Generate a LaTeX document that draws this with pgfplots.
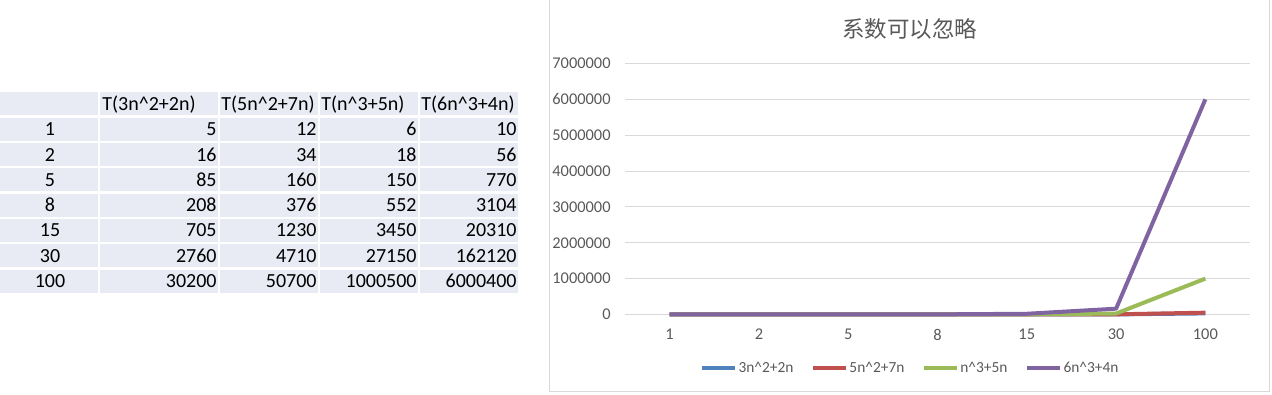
\documentclass[border=0pt]{standalone}
\usepackage{pgfplots}
\pgfplotsset{compat=1.18}
\usepackage{pgfplotstable}
\usepackage{fontspec}
\setmainfont{Carlito}
\newfontfamily\cjk{Noto Sans CJK SC}
\definecolor{cellbg}{RGB}{233,235,244}
\definecolor{txtgray}{RGB}{89,89,89}
\definecolor{gridgray}{RGB}{217,217,217}
\definecolor{sblue}{RGB}{79,129,189}
\definecolor{sred}{RGB}{192,80,77}
\definecolor{sgreen}{RGB}{155,187,89}
\definecolor{spurple}{RGB}{128,100,162}

\pgfplotstableread{
n a b c d
1 5 12 6 10
2 16 34 18 56
5 85 160 150 770
8 208 376 552 3104
15 705 1230 3450 20310
30 2760 4710 27150 162120
100 30200 50700 1000500 6000400
}\data

\begin{document}
\begin{tikzpicture}[x=0.5pt,y=0.5pt]
\path (0,0) rectangle (1272,394);
% ---- table backgrounds
\foreach \xl/\xr in {0/98,100/218,220/318,320/418,420/518}{
  \foreach \i in {0,...,7}{
    \fill[cellbg] (\xl,{302-25.3*\i}) rectangle (\xr,{302-25.3*\i-23});
  }
}
% ---- header
\begin{scope}[every node/.style={anchor=base west,inner sep=0pt,font=\fontsize{10}{12}\selectfont}]
\node at (102,284) {T(3n\textasciicircum2+2n)};
\node at (221,284) {T(5n\textasciicircum2+7n)};
\node at (321,284) {T(n\textasciicircum3+5n)};
\node at (421,284) {T(6n\textasciicircum3+4n)};
\end{scope}
% ---- body
\foreach \i in {0,...,6}{
  \pgfmathsetmacro\yb{302-25.3*(\i+1)-18}
  \pgfplotstablegetelem{\i}{n}\of\data
  \node[anchor=base,inner sep=0pt,font=\fontsize{10}{12}\selectfont] at (50,\yb) {\pgfplotsretval};
  \foreach \c/\xr in {a/217,b/317,c/417,d/517}{
    \pgfplotstablegetelem{\i}{\c}\of\data
    \node[anchor=base east,inner sep=0pt,font=\fontsize{10}{12}\selectfont] at (\xr,\yb) {\pgfplotsretval};
  }
}
% ---- chart frame
\draw[gray!30, line width=0.5pt] (549.5,394) -- (549.5,3) -- (1269.5,3) -- (1269.5,394);
% ---- title
\node[font=\cjk\fontsize{11.25}{13}\selectfont, text=txtgray] at (909.5,366) {系数可以忽略};
% ---- chart
\begin{axis}[
  at={(312.5pt,40pt)}, anchor=south west,
  scale only axis, width=312.5pt, height=125.5pt,
  xmin=-0.5, xmax=6.5, ymin=0, ymax=7000000,
  ytick={0,1000000,2000000,3000000,4000000,5000000,6000000,7000000},
  xtick={0,...,6}, xticklabels={1,2,5,8,15,30,100},
  ymajorgrids, grid style={gridgray, line width=0.5pt},
  axis line style={draw=none}, major tick length=0pt,
  /pgf/number format/assume math mode=true,
  scaled y ticks=false,
  tick label style={font=\fontsize{8.2}{10}\selectfont, text=txtgray},
  yticklabel style={/pgf/number format/fixed, /pgf/number format/precision=0, /pgf/number format/1000 sep={}, anchor=east, inner sep=0pt, xshift=-7pt},
  xticklabel style={anchor=center, inner sep=0pt, yshift=-10pt},
  no markers, clip=false,
  legend columns=-1,
  legend image code/.code={\draw[#1, line width=2pt] (0pt,0pt) -- (16.5pt,0pt);},
  legend style={at={(0.456,-0.215)}, anchor=center, draw=none, fill=none,
    font=\fontsize{7.7}{9}\selectfont, text=txtgray,
    nodes={inner sep=0.75pt},
    /tikz/every even column/.append style={column sep=8pt}},
]
\addplot[sblue, line width=2pt, line join=round] table[x expr=\coordindex, y=a] {\data};
\addlegendentry{3n\textasciicircum2+2n}
\addplot[sred, line width=2pt, line join=round] table[x expr=\coordindex, y=b] {\data};
\addlegendentry{5n\textasciicircum2+7n}
\addplot[sgreen, line width=2pt, line join=round] table[x expr=\coordindex, y=c] {\data};
\addlegendentry{n\textasciicircum3+5n}
\addplot[spurple, line width=2pt, line join=round] table[x expr=\coordindex, y=d] {\data};
\addlegendentry{6n\textasciicircum3+4n}
\end{axis}
\end{tikzpicture}
\end{document}
